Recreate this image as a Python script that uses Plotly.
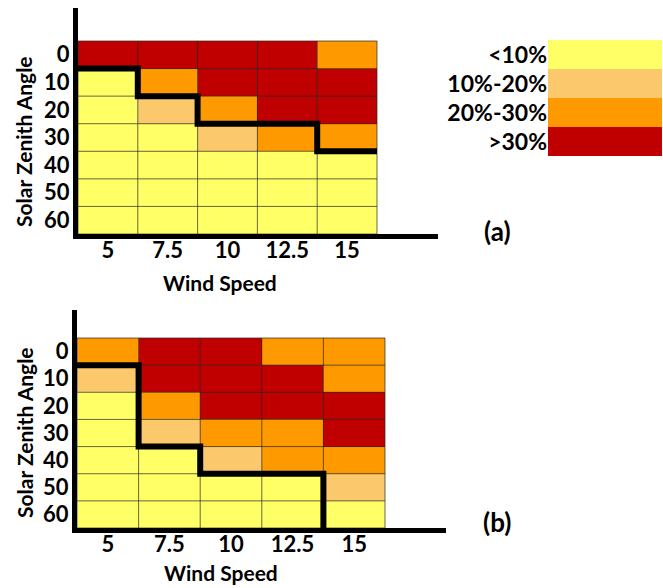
import plotly.graph_objects as go

W, H = 663, 588

wind_labels = ["5", "7.5", "10", "12.5", "15"]
angle_labels = ["0", "10", "20", "30", "40", "50", "60"]
class_labels = ["<10%", "10%-20%", "20%-30%", ">30%"]
class_colors = ["#FFFF66", "#FBC86B", "#FF9900", "#C00000"]

# class index per cell: rows = zenith angle, cols = wind speed
z_a = [
    [3, 3, 3, 3, 2],
    [0, 2, 3, 3, 3],
    [0, 1, 2, 3, 3],
    [0, 0, 1, 2, 2],
    [0, 0, 0, 0, 0],
    [0, 0, 0, 0, 0],
    [0, 0, 0, 0, 0],
]
z_b = [
    [2, 3, 3, 2, 2],
    [1, 3, 3, 3, 2],
    [0, 2, 3, 3, 3],
    [0, 1, 2, 2, 3],
    [0, 0, 1, 2, 2],
    [0, 0, 0, 0, 1],
    [0, 0, 0, 0, 0],
]
# number of rows above the thick boundary line, per wind-speed column
boundary_a = [1, 2, 3, 3, 4]
boundary_b = [1, 4, 5, 5, 7]

FONT = "Lato"
nc, nr = len(wind_labels), len(angle_labels)
cs = [[i / (len(class_colors) - 1), c] for i, c in enumerate(class_colors)]

fig = go.Figure()


def px_x(p):
    return p / W


def px_y(p):
    return 1 - p / H


def add_panel(z, boundary, xa, ya):
    fig.add_trace(go.Heatmap(z=z, x=list(range(nc)), y=list(range(nr)),
                             colorscale=cs, zmin=0, zmax=len(class_colors) - 1,
                             showscale=False, xaxis=xa, yaxis=ya, hoverinfo="skip"))
    gx, gy = [], []
    for i in range(nc + 1):
        gx += [i - 0.5, i - 0.5, None]
        gy += [-0.5, nr - 0.5, None]
    for j in range(nr + 1):
        gx += [-0.5, nc - 0.5, None]
        gy += [j - 0.5, j - 0.5, None]
    fig.add_trace(go.Scatter(x=gx, y=gy, mode="lines", xaxis=xa, yaxis=ya,
                             line=dict(color="rgba(40,40,40,0.7)", width=1),
                             hoverinfo="skip", showlegend=False))
    bx, by = [], []
    for i, b in enumerate(boundary):
        bx.append(i - 0.5)
        by.append(b - 0.5)
        if b >= nr:  # line drops onto the axis: stop there
            break
        bx.append(i + 0.5)
        by.append(b - 0.5)
    fig.add_trace(go.Scatter(x=bx, y=by, mode="lines", xaxis=xa, yaxis=ya,
                             line=dict(color="black", width=6),
                             hoverinfo="skip", showlegend=False))


add_panel(z_a, boundary_a, "x", "y")
add_panel(z_b, boundary_b, "x2", "y2")

# colour key
fig.add_trace(go.Heatmap(z=[[i] for i in range(len(class_labels))], x=[0],
                         y=list(range(len(class_labels))),
                         colorscale=cs, zmin=0, zmax=len(class_colors) - 1,
                         showscale=False, xaxis="x3", yaxis="y3", hoverinfo="skip"))

tickfont = dict(family=FONT, size=22, color="black", weight="bold")


def xax(dom, right, ya):
    return dict(domain=dom, range=[-0.5, right], showline=True, linewidth=5,
                linecolor="black", showgrid=False, zeroline=False, anchor=ya,
                tickvals=list(range(nc)), ticktext=wind_labels, tickfont=tickfont,
                ticks="", ticklabelstandoff=-7, fixedrange=True)


def yax(dom, top, xa):
    return dict(domain=dom, range=[nr - 0.5, top], showline=True, linewidth=5,
                linecolor="black", showgrid=False, zeroline=False, anchor=xa,
                tickvals=list(range(nr)), ticktext=angle_labels, tickfont=tickfont,
                ticks="", ticklabelstandoff=-1, fixedrange=True)


ann = []
title_font = dict(family=FONT, size=21, color="black", weight="bold")
for cx, cy in [(220, 282), (221, 572)]:
    ann.append(dict(x=px_x(cx), y=px_y(cy), xref="paper", yref="paper",
                    xanchor="center", yanchor="middle",
                    text="Wind Speed", showarrow=False, font=title_font))
for cx, cy in [(24, 142), (24, 433)]:
    ann.append(dict(x=px_x(cx), y=px_y(cy), xref="paper", yref="paper",
                    xanchor="center", yanchor="middle",
                    text="Solar Zenith Angle", showarrow=False, textangle=-90,
                    font=title_font))
for t, cx, cy in [("(a)", 497, 231), ("(b)", 497, 522)]:
    ann.append(dict(x=px_x(cx), y=px_y(cy), xref="paper", yref="paper",
                    xanchor="center", yanchor="middle",
                    text=t, showarrow=False,
                    font=dict(family=FONT, size=26, color="black", weight="bold")))

fig.update_layout(
    width=W, height=H, margin=dict(l=0, r=0, t=0, b=0),
    paper_bgcolor="white", plot_bgcolor="white", showlegend=False,
    xaxis=xax([px_x(78), px_x(438)], 4.5 + (438 - 377) / 59.8, "y"),
    yaxis=yax([px_y(234), px_y(8)], -0.5 - (41 - 8) / 27.57, "x"),
    xaxis2=xax([px_x(77), px_x(446)], 4.5 + (446 - 385) / 61.6, "y2"),
    yaxis2=yax([px_y(528), px_y(310)], -0.5 - (338 - 310) / 27.14, "x2"),
    xaxis3=dict(domain=[px_x(548), px_x(662)], anchor="y3", visible=False,
                range=[-0.5, 0.5], fixedrange=True),
    yaxis3=dict(domain=[px_y(156), px_y(40)], anchor="x3", range=[len(class_labels) - 0.5, -0.5],
                tickvals=list(range(len(class_labels))), ticktext=class_labels,
                tickfont=dict(family=FONT, size=23, color="black", weight="bold"),
                showline=False, showgrid=False, zeroline=False, ticks="", fixedrange=True),
    annotations=ann,
)

fig.write_html("out.html")
